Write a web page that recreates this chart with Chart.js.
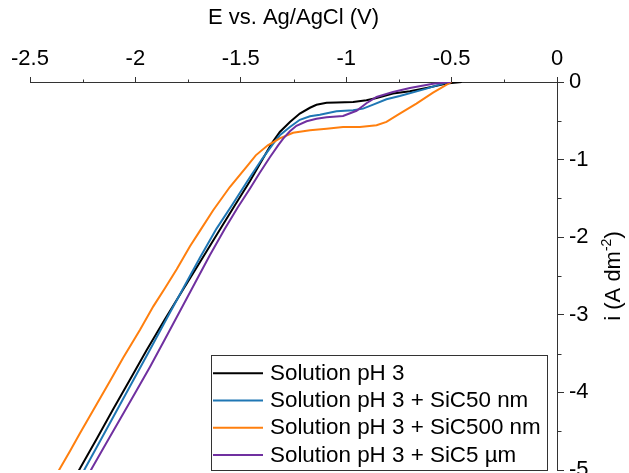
<!DOCTYPE html>
<html>
<head>
<meta charset="utf-8">
<title>Polarisation curves</title>
<script src="https://cdn.jsdelivr.net/npm/chart.js@4.4.0/dist/chart.umd.min.js"></script>
<style>
  html, body { margin: 0; padding: 0; background: #fff; }
  #wrap { width: 629px; height: 473px; }
</style>
</head>
<body>
<div id="wrap"><canvas id="lsvChart" width="629" height="473"></canvas></div>
<script>
// potential (V vs Ag/AgCl) and current density (A dm-2) for each bath
const ePH3 = [-0.452, -0.524, -0.619, -0.698, -0.778, -0.856, -0.904, -0.967, -1.046, -1.093, -1.141, -1.172, -1.220, -1.267, -1.315, -1.354, -1.394, -1.457, -1.528, -1.596, -1.694, -1.773, -1.860, -1.947, -2.026, -2.107, -2.182, -2.263, -2.282];
const iPH3 = [0, -0.021, -0.077, -0.120, -0.149, -0.206, -0.236, -0.258, -0.265, -0.268, -0.294, -0.332, -0.407, -0.515, -0.644, -0.794, -0.983, -1.280, -1.589, -1.889, -2.323, -2.671, -3.058, -3.457, -3.838, -4.224, -4.591, -4.982, -5.068];

const eSiC50 = [-0.518, -0.619, -0.746, -0.809, -0.872, -0.920, -0.967, -1.046, -1.125, -1.172, -1.220, -1.267, -1.315, -1.346, -1.400, -1.466, -1.542, -1.615, -1.694, -1.773, -1.852, -1.931, -2.010, -2.089, -2.168, -2.239, -2.256];
const iSiC50 = [0, -0.085, -0.180, -0.223, -0.291, -0.343, -0.365, -0.378, -0.423, -0.442, -0.487, -0.580, -0.687, -0.794, -0.996, -1.267, -1.589, -1.889, -2.265, -2.659, -3.052, -3.451, -3.844, -4.237, -4.630, -4.982, -5.068];

const eSiC500 = [-0.501, -0.588, -0.667, -0.746, -0.809, -0.856, -0.935, -1.015, -1.093, -1.172, -1.252, -1.315, -1.372, -1.429, -1.473, -1.552, -1.631, -1.694, -1.741, -1.804, -1.860, -1.915, -1.978, -2.058, -2.121, -2.192, -2.263, -2.310, -2.358, -2.377];
const iSiC500 = [0, -0.137, -0.278, -0.407, -0.515, -0.558, -0.580, -0.580, -0.601, -0.622, -0.655, -0.726, -0.816, -0.945, -1.095, -1.353, -1.653, -1.918, -2.117, -2.414, -2.659, -2.891, -3.193, -3.554, -3.857, -4.192, -4.527, -4.755, -4.982, -5.068];

const eSiC5um = [-0.504, -0.588, -0.698, -0.778, -0.856, -0.904, -0.951, -1.015, -1.093, -1.141, -1.188, -1.236, -1.267, -1.299, -1.323, -1.362, -1.410, -1.457, -1.514, -1.575, -1.647, -1.718, -1.789, -1.860, -1.931, -2.002, -2.073, -2.144, -2.207, -2.225];
const iSiC5um = [0, -0.023, -0.077, -0.129, -0.193, -0.274, -0.371, -0.438, -0.455, -0.474, -0.506, -0.564, -0.635, -0.729, -0.816, -0.970, -1.170, -1.376, -1.615, -1.889, -2.233, -2.594, -2.955, -3.316, -3.673, -4.012, -4.347, -4.682, -4.982, -5.068];

const seriesLabels = ['Solution pH 3', 'Solution pH 3 + SiC50 nm', 'Solution pH 3 + SiC500 nm', 'Solution pH 3 + SiC5 µm'];
const seriesColors = ['#000000', '#1f77b4', '#ff7f0e', '#7030a0'];

// minor tick positions between the labelled ones
const xMinor = [-2.25, -1.75, -1.25, -0.75, -0.25];
const yMinor = [-0.5, -1.5, -2.5, -3.5, -4.5];

const axisColor = '#333333';
const fontFamily = '"Liberation Sans", Arial, sans-serif';

function toPoints(e, i) {
    return e.map((v, k) => ({ x: v, y: i[k] }));
}

// "-2.0" -> "-2"
function plainNumber(v) {
    return String(Number(v.toFixed(2)));
}

const series = [
    toPoints(ePH3, iPH3),
    toPoints(eSiC50, iSiC50),
    toPoints(eSiC500, iSiC500),
    toPoints(eSiC5um, iSiC5um),
];

// axis titles: x title above the top axis, y title rotated next to the right axis
const axisTitles = {
    id: 'axisTitles',
    afterDraw(chart) {
        const { ctx, chartArea } = chart;
        ctx.save();
        ctx.fillStyle = '#000';
        ctx.font = '22px ' + fontFamily;
        ctx.textAlign = 'center';
        ctx.textBaseline = 'alphabetic';
        ctx.fillText('E vs. Ag/AgCl (V)', (chartArea.left + chartArea.right) / 2, 24);

        // i (A dm-2) with the exponent raised
        const base = 'i (A dm';
        const sup = '-2';
        const tail = ')';
        ctx.font = '22px ' + fontFamily;
        const wBase = ctx.measureText(base).width;
        const wTail = ctx.measureText(tail).width;
        ctx.font = '14px ' + fontFamily;
        const wSup = ctx.measureText(sup).width;
        const total = wBase + wSup + wTail;

        ctx.translate(620, 276);
        ctx.rotate(-Math.PI / 2);
        ctx.textAlign = 'left';
        let x = -total / 2;
        ctx.font = '22px ' + fontFamily;
        ctx.fillText(base, x, 0);
        x += wBase;
        ctx.font = '14px ' + fontFamily;
        ctx.fillText(sup, x, -9);
        x += wSup;
        ctx.font = '22px ' + fontFamily;
        ctx.fillText(tail, x, 0);
        ctx.restore();
    }
};

// short minor tick marks on both axes
const minorTicks = {
    id: 'minorTicks',
    afterDraw(chart) {
        const { ctx, scales } = chart;
        const xAxisY = Math.round(scales.y.getPixelForValue(0)) + 0.5;
        const yAxisX = Math.round(scales.x.getPixelForValue(0)) + 0.5;
        ctx.save();
        ctx.strokeStyle = axisColor;
        ctx.lineWidth = 1;
        ctx.beginPath();
        xMinor.forEach(v => {
            const px = Math.round(scales.x.getPixelForValue(v)) + 0.5;
            ctx.moveTo(px, xAxisY);
            ctx.lineTo(px, xAxisY - 3);
        });
        yMinor.forEach(v => {
            const py = Math.round(scales.y.getPixelForValue(v)) + 0.5;
            ctx.moveTo(yAxisX, py);
            ctx.lineTo(yAxisX + 4, py);
        });
        ctx.stroke();
        ctx.restore();
    }
};

// boxed legend in the lower right of the plot
const boxLegend = {
    id: 'boxLegend',
    afterDraw(chart) {
        const { ctx } = chart;
        const left = 211.5, top = 355.5, right = 547.5, bottom = 470.5;
        const rowStep = 27.2, firstRow = 373.3;
        ctx.save();
        ctx.fillStyle = '#fff';
        ctx.fillRect(left, top, right - left, bottom - top);
        ctx.strokeStyle = '#333';
        ctx.lineWidth = 1;
        ctx.strokeRect(left, top, right - left, bottom - top);
        ctx.font = '22.4px ' + fontFamily;
        ctx.textAlign = 'left';
        ctx.textBaseline = 'middle';
        chart.data.datasets.forEach((ds, k) => {
            const y = firstRow + k * rowStep;
            ctx.strokeStyle = ds.borderColor;
            ctx.lineWidth = 2;
            ctx.beginPath();
            ctx.moveTo(213, y);
            ctx.lineTo(263, y);
            ctx.stroke();
            ctx.fillStyle = '#000';
            ctx.fillText(ds.label, 270, y + 0.5);
        });
        ctx.restore();
    }
};

Chart.defaults.font.family = fontFamily;
Chart.defaults.font.size = 22;
Chart.defaults.color = '#000';

const ctx = document.getElementById('lsvChart').getContext('2d');
new Chart(ctx, {
    type: 'line',
    data: {
        datasets: series.map((pts, k) => ({
            label: seriesLabels[k],
            data: pts,
            borderColor: seriesColors[k],
            backgroundColor: seriesColors[k],
            borderWidth: 2,
            pointRadius: 0,
            tension: 0,
            fill: false,
            order: 4 - k,
        })),
    },
    options: {
        responsive: false,
        devicePixelRatio: 1,
        animation: false,
        layout: { padding: { left: 30, right: 0, top: 0, bottom: 3 } },
        plugins: {
            legend: { display: false },
            tooltip: { enabled: false },
        },
        scales: {
            x: {
                type: 'linear',
                position: 'top',
                min: -2.5,
                max: 0,
                afterFit: s => { s.height = 82; s.paddingLeft = 0; s.paddingRight = 0; },
                ticks: { stepSize: 0.5, padding: 5, maxRotation: 0, color: '#000', callback: plainNumber },
                grid: { drawOnChartArea: false, drawTicks: true, tickLength: 5, color: axisColor },
                border: { display: true, color: axisColor, width: 1 },
            },
            y: {
                type: 'linear',
                position: 'right',
                min: -5,
                max: 0,
                // the bottom label is allowed to run off the canvas
                afterFit: s => { s.width = 72; s.paddingTop = 0; s.paddingBottom = 0; },
                ticks: { stepSize: 1, padding: 5, color: '#000', callback: plainNumber },
                grid: { drawOnChartArea: false, drawTicks: true, tickLength: 7, color: axisColor },
                border: { display: true, color: axisColor, width: 1 },
            },
        },
    },
    plugins: [axisTitles, minorTicks, boxLegend],
});
</script>
</body>
</html>
